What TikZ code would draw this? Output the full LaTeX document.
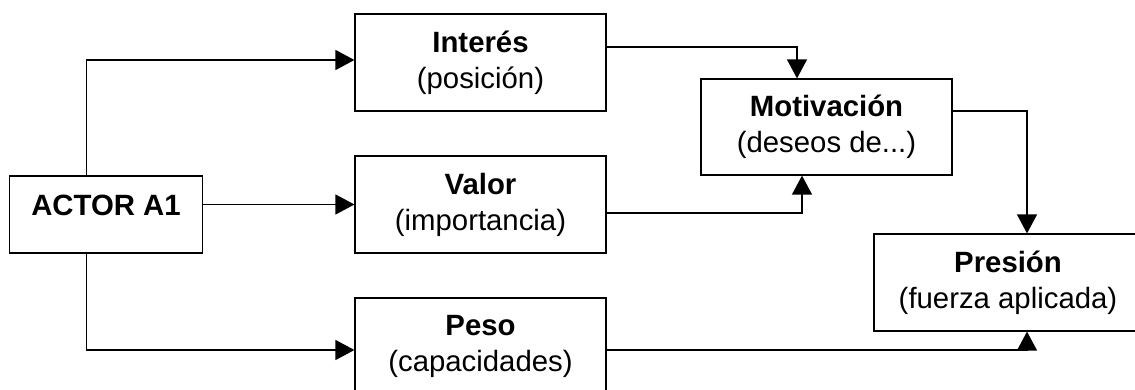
\documentclass[tikz,border=0pt]{standalone}
\usepackage{fontspec}
\setmainfont{Liberation Sans}
\usepackage{tikz}
\usetikzlibrary{calc}
\usetikzlibrary{arrows.meta}

\tikzset{
  box/.style={draw, line width=0.7pt, minimum width=5.02cm, minimum height=1.94cm,
    align=center, inner sep=0pt, font=\fontsize{16.7}{20.5}\selectfont},
  arr/.style={line width=0.7pt, -{Triangle[length=0.38cm, width=0.4cm]}},
}

\begin{document}
\begin{tikzpicture}[x=0.02cm, y=-0.02cm]
\useasboundingbox (0,0) rectangle (1135,389);
\clip (0,0) rectangle (1135,389);
% -- boxes --
\node[box, minimum width=3.85cm, minimum height=0pt, text height=0.78cm, text depth=0.76cm] (actor) at (106,214.5) {\textbf{ACTOR A1}};
\node[box] (interes) at (480.5,62.5) {\textbf{Interés}\\(posición)};
\node[box] (valor) at (480.5,204.5) {\textbf{Valor}\\(importancia)};
\node[box] (peso) at (480.5,346.5) {\textbf{Peso}\\(capacidades)};
\node[box, minimum height=1.92cm] (motiv) at (826.5,127) {\textbf{Motivación}\\(deseos de...)};
\node[box, minimum width=5.36cm] (presion) at (1008,282.5) {\textbf{Presión}\\(fuerza aplicada)};
% -- from the actor --
\coordinate (split) at ($(actor.north west)!0.4!(actor.north east)$);
\draw[arr] (split) |- ($(interes.west)+(0,-2.5)$);
\draw[arr] (actor.east |- valor.west) -- (valor.west);
\draw[arr] (split |- actor.south) |- ($(peso.west)+(0,3.5)$);
% -- into motivation and pressure --
\draw[arr] ($(interes.east)+(0,-15.5)$) -| ($(motiv.north)+(-29.5,0)$);
\draw[arr] ($(valor.east)+(0,8.5)$) -| ($(motiv.south)+(-24.5,0)$);
\draw[arr] ($(motiv.east)+(0,-16)$) -| ($(presion.north)+(19,0)$);
\draw[arr] ($(peso.east)+(0,3.5)$) -| ($(presion.south)+(19,0)$);
\end{tikzpicture}
\end{document}
